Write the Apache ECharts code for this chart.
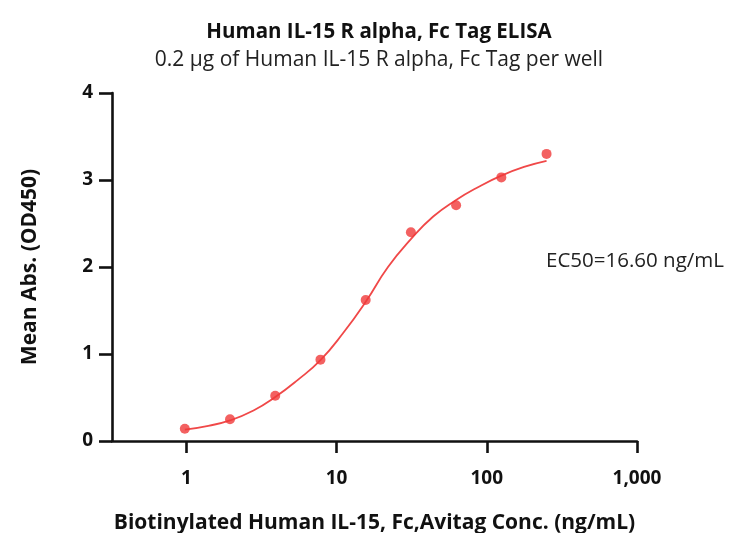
<!DOCTYPE html>
<html>
<head>
<meta charset="utf-8">
<script src="https://cdn.jsdelivr.net/npm/echarts@6/dist/echarts.min.js"></script>
<style>html,body{margin:0;padding:0;background:#fff;}#c{width:732px;height:533px;}</style>
</head>
<body>
<div id="c"></div>
<script>
// Measured points: concentration (ng/mL) and mean absorbance (OD450)
const conc = [0.977, 1.953, 3.906, 7.813, 15.625, 31.25, 62.5, 125, 250];
const od = [0.14, 0.25, 0.52, 0.935, 1.62, 2.40, 2.71, 3.03, 3.30];
// Fitted curve
const curveX = [0.977, 1.4, 1.953, 2.8, 3.906, 5.5, 7.813, 11, 15.625, 22, 31.25, 44, 62.5, 88, 125, 177, 250];
const curveY = [0.13, 0.175, 0.236, 0.35, 0.505, 0.70, 0.93, 1.235, 1.60, 2.00, 2.32, 2.58, 2.77, 2.92, 3.05, 3.15, 3.22];
const xTicks = [1, 10, 100, 1000];
const yTicks = [0, 1, 2, 3, 4];

const FONT = 'Open Sans';
const chart = echarts.init(document.getElementById('c'), null, {renderer: 'canvas'});
chart.setOption({
  animation: false,
  backgroundColor: '#fff',
  title: {
    text: 'Human IL-15 R alpha, Fc Tag ELISA',
    subtext: '0.2 μg of Human IL-15 R alpha, Fc Tag per well',
    left: 374, top: 17, textAlign: 'center',
    itemGap: 7,
    textStyle: {fontFamily: FONT, fontSize: 20.5, fontWeight: 'bold', color: '#111'},
    subtextStyle: {fontFamily: FONT, fontSize: 21, color: '#222'}
  },
  grid: {left: 112, right: 95, top: 93, bottom: 92, containLabel: false, outerBoundsMode: 'none'},
  xAxis: {
    type: 'log', logBase: 10, min: 0.32, max: 1000,
    name: 'Biotinylated Human IL-15, Fc,Avitag Conc. (ng/mL)',
    nameLocation: 'middle', nameGap: 72,
    nameTextStyle: {fontFamily: FONT, fontSize: 21, fontWeight: 'bold', color: '#111'},
    axisLine: {show: true, onZero: false, lineStyle: {color: '#111', width: 2.6}},
    axisTick: {show: true, inside: false, length: 12, lineStyle: {color: '#111', width: 2.6}, customValues: xTicks},
    axisLabel: {customValues: xTicks, margin: 28, fontFamily: FONT, fontSize: 19, fontWeight: 'bold', color: '#111',
      formatter: v => Number(v).toLocaleString('en-US')},
    splitLine: {show: false}, minorTick: {show: false}
  },
  yAxis: {
    type: 'value', min: 0, max: 4, interval: 1,
    name: 'Mean Abs. (OD450)',
    nameLocation: 'middle', nameGap: 71,
    nameTextStyle: {fontFamily: FONT, fontSize: 21, fontWeight: 'bold', color: '#111'},
    axisLine: {show: true, onZero: false, lineStyle: {color: '#111', width: 2.6}},
    axisTick: {show: true, inside: false, length: 13, customValues: yTicks, lineStyle: {color: '#111', width: 2.6}},
    axisLabel: {customValues: yTicks, margin: 19, fontFamily: FONT, fontSize: 19, fontWeight: 'bold', color: '#111'},
    splitLine: {show: false}
  },
  graphic: [{
    type: 'text', left: 546, top: 251,
    style: {text: 'EC50=16.60 ng/mL', fontFamily: FONT, fontSize: 20.5, fill: '#222'}
  }],
  series: [
    {type: 'line', data: curveX.map((x, i) => [x, curveY[i]]), smooth: 0.5, showSymbol: false,
      lineStyle: {color: '#F04848', width: 1.8}, silent: true, z: 2},
    {type: 'scatter', data: conc.map((x, i) => [x, od[i]]), symbol: 'circle', symbolSize: 10,
      itemStyle: {color: '#F03A3A'}, z: 3}
  ]
});
</script>
</body>
</html>
